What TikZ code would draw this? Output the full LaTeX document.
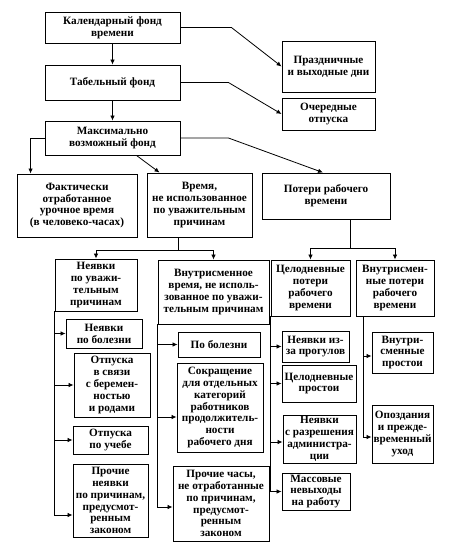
\documentclass[tikz,border=0pt]{standalone}
\usepackage{fontspec}
\setmainfont{Liberation Serif}
\usetikzlibrary{arrows.meta}
\begin{document}
\begin{tikzpicture}[x=1pt,y=-1pt,
 box/.style={draw, line width=0.9pt, rectangle, align=center, inner sep=0.5pt,
   font=\fontsize{11.2}{11.9}\selectfont\bfseries},
 arr/.style={-{Latex[length=5pt,width=4.5pt]}, line width=0.8pt},
 ln/.style={line width=0.8pt}]
\useasboundingbox (0,0) rectangle (450,546);
\newcommand\mkbox[6]{\node[box, minimum width={#4pt-#2pt}, minimum height={#5pt-#3pt}]
  (#1) at ({(#2+#4)/2},{(#3+#5)/2}) {#6};}
% top
\mkbox{kal}{45}{12}{180}{43}{Календарный фонд\\времени}
\mkbox{tab}{45}{65}{180}{100}{Табельный фонд}
\mkbox{max}{45}{121}{180}{155}{Максимально\\возможный фонд}
\mkbox{praz}{282}{41}{375}{92}{Праздничные\\и выходные дни}
\mkbox{och}{282}{98}{375}{130}{Очередные\\отпуска}
% second row
\mkbox{fakt}{17}{174}{137}{237}{Фактически\\отработанное\\урочное время\\(в человеко-часах)}
\mkbox{vrem}{147}{173}{252}{237}{Время,\\не использованное\\по уважительным\\причинам}
\mkbox{pot}{262}{173}{390}{219}{Потери рабочего\\времени}
% third row
\mkbox{neyav}{55}{259}{137}{311}{Неявки\\по уважи-\\тельным\\причинам}
\mkbox{vnutr}{158}{260}{269}{324}{Внутрисменное\\время, не исполь-\\зованное по уважи-\\тельным причинам}
\mkbox{celod}{271}{260}{350}{316}{Целодневные\\потери\\рабочего\\времени}
\mkbox{vnsm}{356}{260}{434}{316}{Внутрисмен-\\ные потери\\рабочего\\времени}
% left column items
\mkbox{bolA}{66}{319}{142}{348}{Неявки\\по болезни}
\mkbox{berem}{74}{353}{150}{417}{Отпуска\\в связи\\с беремен-\\ностью\\и родами}
\mkbox{ucheb}{73}{426}{148}{454}{Отпуска\\по учебе}
\mkbox{prochA}{73}{464}{148}{537}{Прочие\\неявки\\по причинам,\\предусмот-\\ренным\\законом}
% middle column items
\mkbox{bolB}{178}{332}{260}{357}{По болезни}
\mkbox{sokr}{177}{363}{263}{452}{Сокращение\\для отдельных\\категорий\\работников\\продолжитель-\\ности\\рабочего дня}
\mkbox{prochB}{173}{466}{269}{541}{Прочие часы,\\не отработанные\\по причинам,\\предусмот-\\ренным\\законом}
% right column items
\mkbox{progul}{282}{331}{349}{362}{Неявки из-\\за прогулов}
\mkbox{celprost}{282}{365}{356}{402}{Целодневные\\простои}
\mkbox{razresh}{283}{415}{356}{463}{Неявки\\с разрешения\\администра-\\ции}
\mkbox{massov}{282}{473}{350}{510}{Массовые\\невыходы\\на работу}
\mkbox{vnprost}{372}{332}{433}{373}{Внутри-\\сменные\\простои}
\mkbox{opozd}{372}{405}{433}{463}{Опоздания\\и прежде-\\временный\\уход}
% arrow end points
\coordinate (eProchA) at ([yshift=-14.5pt]prochA.west);
\coordinate (eProchB) at ([yshift=-3.5pt]prochB.west);
\coordinate (eSokr) at ([yshift=-9.5pt]sokr.west);
\coordinate (eRazresh) at ([yshift=-3pt]razresh.west);
\coordinate (eOpozd) at ([yshift=-3pt]opozd.west);
\coordinate (eVnprost) at ([yshift=-3.5pt]vnprost.west);
\coordinate (sVnsm) at ([xshift=8pt]vnsm.south west);
% connectors top
\draw[arr] (kal.south) -- (tab.north);
\draw[arr] (tab.south) -- (max.north);
\draw[arr] (kal.east) -- ++(51,0) -- (praz.west);
\draw[arr] (tab.east) -- ++(48,0) -- (och.west);
\draw[arr] (max.east) -- ++(48,0) -- ([xshift=-3pt]pot.north);
\draw[arr] (max.west) -| ([xshift=14pt]fakt.north west);
\draw[arr] ([xshift=24pt]max.south) -- ([xshift=13pt]vrem.north west);
% branching
\draw[ln] ([xshift=-21.5pt]vrem.south) -- ++(0,13) coordinate (j1);
\draw[arr] (j1) -| (neyav.north);
\draw[arr] (j1) -| (vnutr.north);
\draw[ln] ([xshift=24pt]pot.south) -- ++(0,29) coordinate (j2);
\draw[arr] (j2) -| (celod.north);
\draw[arr] (j2) -| (vnsm.north);
% left column
\draw[arr] (neyav.south west) |- (eProchA);
\draw[arr] (neyav.south west |- bolA.west) -- (bolA.west);
\draw[arr] (neyav.south west |- berem.west) -- (berem.west);
\draw[arr] (neyav.south west |- ucheb.west) -- (ucheb.west);
% middle column
\draw[arr] (vnutr.south west) |- (eProchB);
\draw[arr] (vnutr.south west |- bolB.west) -- (bolB.west);
\draw[arr] (vnutr.south west |- eSokr) -- (eSokr);
% celod column
\draw[arr] (celod.south west) |- (massov.west);
\draw[arr] (celod.south west |- progul.west) -- (progul.west);
\draw[arr] (celod.south west |- celprost.west) -- (celprost.west);
\draw[arr] (celod.south west |- eRazresh) -- (eRazresh);
% vnsm column
\draw[arr] (sVnsm) |- (eOpozd);
\draw[arr] (sVnsm |- eVnprost) -- (eVnprost);
\end{tikzpicture}
\end{document}
